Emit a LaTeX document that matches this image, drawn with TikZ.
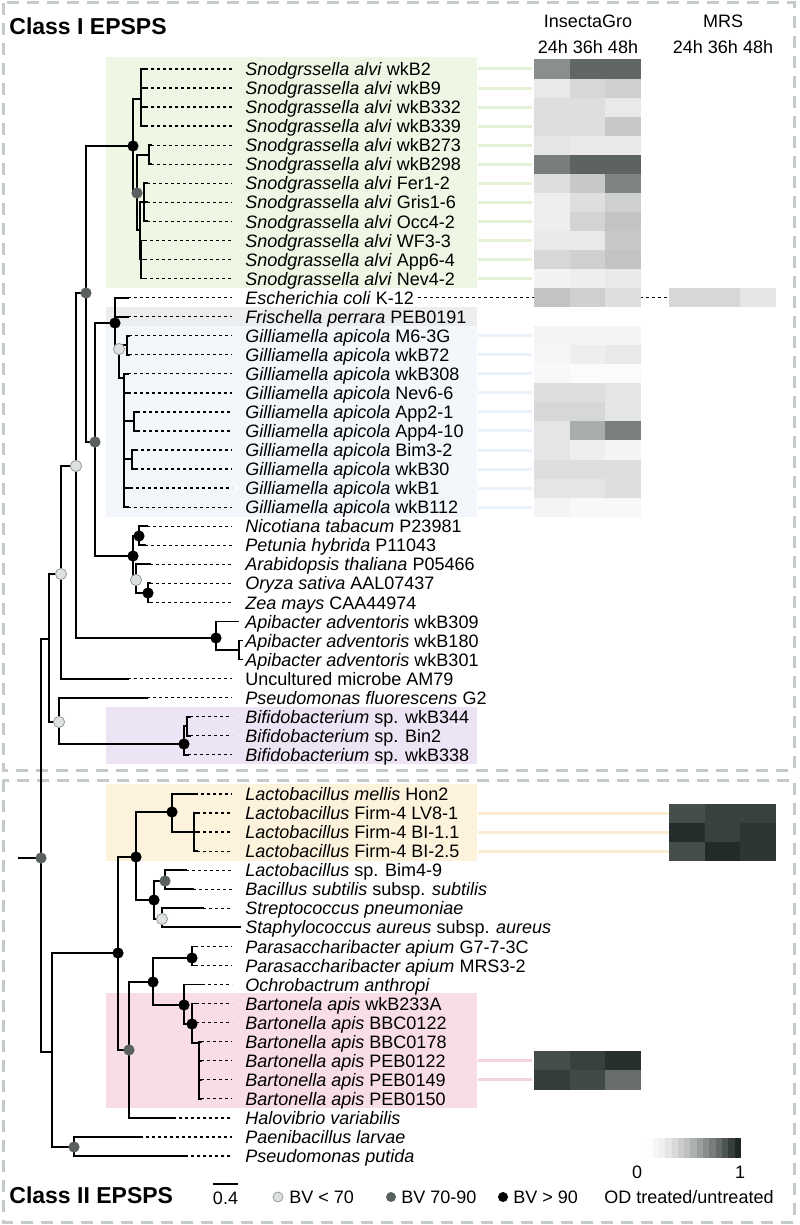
\documentclass[tikz,border=0pt]{standalone}
\usepackage{fontspec}
\setmainfont{Liberation Sans}

\definecolor{hm}{RGB}{30,38,38}
\definecolor{framegray}{RGB}{197,202,202}
\definecolor{snodbg}{RGB}{237,247,227}
\definecolor{frisbg}{RGB}{236,237,238}
\definecolor{gillbg}{RGB}{243,247,252}
\definecolor{bifbg}{RGB}{236,228,244}
\definecolor{lactbg}{RGB}{253,243,220}
\definecolor{bartbg}{RGB}{248,220,230}
\definecolor{snodln}{RGB}{228,241,214}
\definecolor{gillln}{RGB}{234,241,250}
\definecolor{lactln}{RGB}{252,236,208}
\definecolor{bartln}{RGB}{245,210,223}
\definecolor{bvmidc}{RGB}{90,96,96}
\definecolor{bvlowc}{RGB}{222,225,226}

\tikzset{
  branch/.style={line width=0.9pt, line cap=rect},
  dotline/.style={line width=0.65pt, dash pattern=on 1.4pt off 1.6pt},
  leaf/.style={anchor=west, inner sep=0pt, text height=1.5ex, text depth=.25ex, font=\fontsize{9}{10}\selectfont},
  plain/.style={inner sep=0pt, font=\fontsize{9}{10}\selectfont},
  title/.style={anchor=west, inner sep=0pt, font=\fontsize{11.5}{13}\selectfont\bfseries},
  frame/.style={draw=framegray, line width=1.5pt, dash pattern=on 6pt off 4pt},
  bvhi/.style={fill=black},
  bvmid/.style={fill=bvmidc},
  bvlow/.style={fill=bvlowc, draw=gray!80, line width=0.4pt},
  link/.style={line width=1.5pt}
}

\begin{document}
\begin{tikzpicture}[x=0.5pt, y=-0.5pt]
\useasboundingbox (0,0) rectangle (799,1225);
\fill[white] (0,0) rectangle (799,1225);

% clade backgrounds
\fill[snodbg] (106,57) rectangle (477,288);
\fill[frisbg] (106,307) rectangle (477,326);
\fill[gillbg] (106,326) rectangle (477,517);
\fill[bifbg] (106,707) rectangle (477,764);
\fill[lactbg] (106,784) rectangle (477,861);
\fill[bartbg] (106,993) rectangle (477,1108);

% frames
\draw[frame] (3,3) rectangle (794,770);
\draw[frame] (3,780) rectangle (794,1222);

\node[title] (cls1) at (9,26) {Class I EPSPS};
\node[title] (cls2) at (9,1195) {Class II EPSPS};

% leaves
\node[leaf] (l1) at (245,69) {\emph{Snodgrssella alvi} wkB2};
\node[leaf] (l2) at (245,88.05) {\emph{Snodgrassella alvi} wkB9};
\node[leaf] (l3) at (245,107.1) {\emph{Snodgrassella alvi} wkB332};
\node[leaf] (l4) at (245,126.15) {\emph{Snodgrassella alvi} wkB339};
\node[leaf] (l5) at (245,145.2) {\emph{Snodgrassella alvi} wkB273};
\node[leaf] (l6) at (245,164.25) {\emph{Snodgrassella alvi} wkB298};
\node[leaf] (l7) at (245,183.3) {\emph{Snodgrassella alvi} Fer1-2};
\node[leaf] (l8) at (245,202.35) {\emph{Snodgrassella alvi} Gris1-6};
\node[leaf] (l9) at (245,221.4) {\emph{Snodgrassella alvi} Occ4-2};
\node[leaf] (l10) at (245,240.45) {\emph{Snodgrassella alvi} WF3-3};
\node[leaf] (l11) at (245,259.5) {\emph{Snodgrassella alvi} App6-4};
\node[leaf] (l12) at (245,278.55) {\emph{Snodgrassella alvi} Nev4-2};
\node[leaf] (l13) at (245,297.6) {\emph{Escherichia coli} K-12};
\node[leaf] (l14) at (245,316.65) {\emph{Frischella perrara} PEB0191};
\node[leaf] (l15) at (245,335.7) {\emph{Gilliamella apicola} M6-3G};
\node[leaf] (l16) at (245,354.75) {\emph{Gilliamella apicola} wkB72};
\node[leaf] (l17) at (245,373.8) {\emph{Gilliamella apicola} wkB308};
\node[leaf] (l18) at (245,392.85) {\emph{Gilliamella apicola} Nev6-6};
\node[leaf] (l19) at (245,411.9) {\emph{Gilliamella apicola} App2-1};
\node[leaf] (l20) at (245,430.95) {\emph{Gilliamella apicola} App4-10};
\node[leaf] (l21) at (245,450) {\emph{Gilliamella apicola} Bim3-2};
\node[leaf] (l22) at (245,469.05) {\emph{Gilliamella apicola} wkB30};
\node[leaf] (l23) at (245,488.1) {\emph{Gilliamella apicola} wkB1};
\node[leaf] (l24) at (245,507.15) {\emph{Gilliamella apicola} wkB112};
\node[leaf] (l25) at (245,526.2) {\emph{Nicotiana tabacum} P23981};
\node[leaf] (l26) at (245,545.25) {\emph{Petunia hybrida} P11043};
\node[leaf] (l27) at (245,564.3) {\emph{Arabidopsis thaliana} P05466};
\node[leaf] (l28) at (245,583.35) {\emph{Oryza sativa} AAL07437};
\node[leaf] (l29) at (245,602.4) {\emph{Zea mays} CAA44974};
\node[leaf] (l30) at (245,621.45) {\emph{Apibacter adventoris} wkB309};
\node[leaf] (l31) at (245,640.5) {\emph{Apibacter adventoris} wkB180};
\node[leaf] (l32) at (245,659.55) {\emph{Apibacter adventoris} wkB301};
\node[leaf] (l33) at (245,678.6) {Uncultured microbe AM79};
\node[leaf] (l34) at (245,697.65) {\emph{Pseudomonas fluorescens} G2};
\node[leaf] (l35) at (245,716.7) {\emph{Bifidobacterium} sp. wkB344};
\node[leaf] (l36) at (245,735.75) {\emph{Bifidobacterium} sp. Bin2};
\node[leaf] (l37) at (245,754.8) {\emph{Bifidobacterium} sp. wkB338};
\node[leaf] (l38) at (245,794) {\emph{Lactobacillus mellis} Hon2};
\node[leaf] (l39) at (245,813.05) {\emph{Lactobacillus} Firm-4 LV8-1};
\node[leaf] (l40) at (245,832.1) {\emph{Lactobacillus} Firm-4 BI-1.1};
\node[leaf] (l41) at (245,851.15) {\emph{Lactobacillus} Firm-4 BI-2.5};
\node[leaf] (l42) at (245,870.2) {\emph{Lactobacillus} sp. Bim4-9};
\node[leaf] (l43) at (245,889.25) {\emph{Bacillus subtilis} subsp. \emph{subtilis}};
\node[leaf] (l44) at (245,908.3) {\emph{Streptococcus pneumoniae}};
\node[leaf] (l45) at (245,927.35) {\emph{Staphylococcus aureus} subsp. \emph{aureus}};
\node[leaf] (l46) at (245,946.4) {\emph{Parasaccharibacter apium} G7-7-3C};
\node[leaf] (l47) at (245,965.45) {\emph{Parasaccharibacter apium} MRS3-2};
\node[leaf] (l48) at (245,984.5) {\emph{Ochrobactrum anthropi}};
\node[leaf] (l49) at (245,1003.55) {\emph{Bartonela apis} wkB233A};
\node[leaf] (l50) at (245,1022.6) {\emph{Bartonella apis} BBC0122};
\node[leaf] (l51) at (245,1041.65) {\emph{Bartonella apis} BBC0178};
\node[leaf] (l52) at (245,1060.7) {\emph{Bartonella apis} PEB0122};
\node[leaf] (l53) at (245,1079.75) {\emph{Bartonella apis} PEB0149};
\node[leaf] (l54) at (245,1098.8) {\emph{Bartonella apis} PEB0150};
\node[leaf] (l55) at (245,1117.85) {\emph{Halovibrio variabilis}};
\node[leaf] (l56) at (245,1136.9) {\emph{Paenibacillus larvae}};
\node[leaf] (l57) at (245,1155.95) {\emph{Pseudomonas putida}};

% branch tips
\coordinate (t1) at (145,69);
\coordinate (t2) at (145,88.05);
\coordinate (t3) at (145,107.1);
\coordinate (t4) at (145,126.15);
\coordinate (t5) at (151,145.2);
\coordinate (t6) at (151,164.25);
\coordinate (t7) at (147,183.3);
\coordinate (t8) at (147,202.35);
\coordinate (t9) at (147,221.4);
\coordinate (t10) at (144,240.45);
\coordinate (t11) at (144,259.5);
\coordinate (t12) at (144,278.55);
\coordinate (t13) at (128,297.6);
\coordinate (t14) at (128,316.65);
\coordinate (t15) at (129,335.7);
\coordinate (t16) at (129,354.75);
\coordinate (t17) at (128,373.8);
\coordinate (t18) at (128,392.85);
\coordinate (t19) at (137,411.9);
\coordinate (t20) at (137,430.95);
\coordinate (t21) at (135,450);
\coordinate (t22) at (135,469.05);
\coordinate (t23) at (130,488.1);
\coordinate (t24) at (128,507.15);
\coordinate (t25) at (147,526.2);
\coordinate (t26) at (145,545.25);
\coordinate (t27) at (150,564.3);
\coordinate (t28) at (150,583.35);
\coordinate (t29) at (150,602.4);
\coordinate (t30) at (238,621.45);
\coordinate (t31) at (242,640.5);
\coordinate (t32) at (242,659.55);
\coordinate (t33) at (128,678.6);
\coordinate (t34) at (147,697.65);
\coordinate (t35) at (190,716.7);
\coordinate (t36) at (190,735.75);
\coordinate (t37) at (188,754.8);
\coordinate (t38) at (195,794);
\coordinate (t39) at (197,813.05);
\coordinate (t40) at (197,832.1);
\coordinate (t41) at (197,851.15);
\coordinate (t42) at (186,870.2);
\coordinate (t43) at (193,889.25);
\coordinate (t44) at (203,908.3);
\coordinate (t45) at (240,927.35);
\coordinate (t46) at (195,946.4);
\coordinate (t47) at (195,965.45);
\coordinate (t48) at (202,984.5);
\coordinate (t49) at (196,1003.55);
\coordinate (t50) at (196,1022.6);
\coordinate (t51) at (201,1041.65);
\coordinate (t52) at (201,1060.7);
\coordinate (t53) at (201,1079.75);
\coordinate (t54) at (201,1098.8);
\coordinate (t55) at (173,1117.85);
\coordinate (t56) at (140,1136.9);
\coordinate (t57) at (185,1155.95);

% internal nodes
\coordinate (stub) at (19,858);
\coordinate (R) at (41,858);
\coordinate (C1) at (49,639);
\coordinate (N61) at (61,574);
\coordinate (N76) at (76,466);
\coordinate (N86) at (86,293);
\coordinate (SA) at (133,146);
\coordinate (S1) at (141,99);
\coordinate (S2) at (137,193);
\coordinate (S3) at (149,155);
\coordinate (S4) at (140,230);
\coordinate (S5) at (144,202);
\coordinate (S6) at (141,259);
\coordinate (N95) at (95,442);
\coordinate (FE) at (115,323);
\coordinate (FG) at (119,349);
\coordinate (G1) at (127,345);
\coordinate (GR) at (124,378);
\coordinate (G19) at (134,421);
\coordinate (G21) at (132,459);
\coordinate (P) at (133,556);
\coordinate (NP) at (139,536);
\coordinate (OA) at (136,580);
\coordinate (OZ) at (148,593);
\coordinate (Api) at (216,638);
\coordinate (Api2) at (239,650);
\coordinate (N59) at (59,722);
\coordinate (Bif) at (184,744);
\coordinate (Bif2) at (187,726);
\coordinate (C2) at (52,1052);
\coordinate (L) at (118,953);
\coordinate (LB) at (136,857);
\coordinate (LC) at (172,812);
\coordinate (F4) at (194,832);
\coordinate (LD) at (154,900);
\coordinate (LE) at (165,881);
\coordinate (LF) at (162,919);
\coordinate (BA) at (129,1050);
\coordinate (PB) at (153,982);
\coordinate (Par) at (192,958);
\coordinate (Bt) at (184,1005);
\coordinate (Bt2) at (192,1024);
\coordinate (Bt3) at (199,1043);
\coordinate (PP) at (74,1147);

% links from labels to the heat map
\foreach \i in {1,...,12}
  \draw[link, snodln] ([xshift=116.5pt]l\i.west) -- ++(54,0);
\foreach \i in {15,...,24}
  \draw[link, gillln] ([xshift=116.5pt]l\i.west) -- ++(54,0);
\foreach \i in {39,40,41}
  \draw[link, lactln] ([xshift=116.5pt]l\i.west) -- ++(191,0);
\foreach \i in {52,53}
  \draw[link, bartln] ([xshift=116.5pt]l\i.west) -- ++(54,0);
\draw[dotline] ([xshift=2pt]l13.east) -- ([xshift=144.5pt]l13.west);
\draw[dotline] ([xshift=197.5pt]l13.west) -- ([xshift=212pt]l13.west);

% heat map, InsectaGro
\foreach \y/\a/\b/\c in {69/52/70/70, 88.05/10/18/22, 107.1/15/15/10, 126.15/15/15/25,
    145.2/12/10/10, 164.25/60/72/72, 183.3/15/25/57, 202.35/8/15/22, 221.4/8/20/27,
    240.45/10/10/25, 259.5/18/22/27, 278.55/6/8/10, 297.6/27/22/15,
    335.7/5/5/5, 354.75/4/8/10, 373.8/3/2/2, 392.85/15/15/12, 411.9/18/18/12,
    430.95/12/38/59, 450/12/8/5, 469.05/15/15/15, 488.1/12/12/15, 507.15/5/3/3,
    1060.7/82/88/96, 1079.75/90/84/67} {
  \fill[hm!\a!white] (534,{\y-9.53}) rectangle ++(35.8,19.3);
  \fill[hm!\b!white] (569.5,{\y-9.53}) rectangle ++(35.8,19.3);
  \fill[hm!\c!white] (605,{\y-9.53}) rectangle ++(35.5,19.3);
}
% heat map, MRS
\foreach \y/\a/\b/\c in {297.6/18/18/12, 813.05/82/88/88, 832.1/97/88/93, 851.15/82/98/93} {
  \fill[hm!\a!white] (669,{\y-9.53}) rectangle ++(36,19.3);
  \fill[hm!\b!white] (704.7,{\y-9.53}) rectangle ++(36,19.3);
  \fill[hm!\c!white] (740.4,{\y-9.53}) rectangle ++(35.6,19.3);
}

\node[plain] (hdIG) at (588,21) {InsectaGro};
\node[plain] (hdMRS) at (723,21) {MRS};
\node[plain] (tmIG) at (588,47) {24h 36h 48h};
\node[plain] (tmMRS) at (723,47) {24h 36h 48h};

% tree
\draw[branch] (stub) -- (R);
\draw[branch] (R) |- (C1);
\draw[branch] (R) |- (C2);
\draw[branch] (C1) |- (N61);
\draw[branch] (C1) |- (N59);
\draw[branch] (N61) |- (N76);
\draw[branch] (N61) |- (t33);
\draw[branch] (N76) |- (N86);
\draw[branch] (N76) |- (Api);
\draw[branch] (N86) |- (SA);
\draw[branch] (N86) |- (N95);
\draw[branch] (SA) |- (S1);
\draw[branch] (SA) |- (S2);
\foreach \i in {1,...,4} \draw[branch] (S1) |- (t\i);
\draw[branch] (S2) |- (S3);
\draw[branch] (S2) |- (S4);
\foreach \i in {5,6} \draw[branch] (S3) |- (t\i);
\draw[branch] (S4) |- (S5);
\draw[branch] (S4) |- (S6);
\foreach \i in {7,8,9} \draw[branch] (S5) |- (t\i);
\foreach \i in {10,11,12} \draw[branch] (S6) |- (t\i);
\draw[branch] (N95) |- (FE);
\draw[branch] (N95) |- (P);
\draw[branch] (FE) |- (t13);
\draw[branch] (FE) |- (t14);
\draw[branch] (FE) |- (FG);
\draw[branch] (FG) |- (G1);
\draw[branch] (FG) |- (GR);
\foreach \i in {15,16} \draw[branch] (G1) |- (t\i);
\foreach \i in {17,18,23,24} \draw[branch] (GR) |- (t\i);
\draw[branch] (GR) |- (G19);
\draw[branch] (GR) |- (G21);
\foreach \i in {19,20} \draw[branch] (G19) |- (t\i);
\foreach \i in {21,22} \draw[branch] (G21) |- (t\i);
\draw[branch] (P) |- (NP);
\draw[branch] (P) |- (OA);
\foreach \i in {25,26} \draw[branch] (NP) |- (t\i);
\draw[branch] (OA) |- (t27);
\draw[branch] (OA) |- (OZ);
\foreach \i in {28,29} \draw[branch] (OZ) |- (t\i);
\draw[branch] (Api) |- (t30);
\draw[branch] (Api) |- (Api2);
\foreach \i in {31,32} \draw[branch] (Api2) |- (t\i);
\draw[branch] (N59) |- (t34);
\draw[branch] (N59) |- (Bif);
\draw[branch] (Bif) |- (Bif2);
\draw[branch] (Bif) |- (t37);
\foreach \i in {35,36} \draw[branch] (Bif2) |- (t\i);
\draw[branch] (C2) |- (L);
\draw[branch] (C2) |- (PP);
\draw[branch] (L) |- (LB);
\draw[branch] (L) |- (BA);
\draw[branch] (LB) |- (LC);
\draw[branch] (LB) |- (LD);
\draw[branch] (LC) |- (t38);
\draw[branch] (LC) |- (F4);
\foreach \i in {39,40,41} \draw[branch] (F4) |- (t\i);
\draw[branch] (LD) |- (LE);
\draw[branch] (LD) |- (LF);
\foreach \i in {42,43} \draw[branch] (LE) |- (t\i);
\foreach \i in {44,45} \draw[branch] (LF) |- (t\i);
\draw[branch] (BA) |- (PB);
\draw[branch] (BA) |- (t55);
\draw[branch] (PB) |- (Par);
\draw[branch] (PB) |- (Bt);
\foreach \i in {46,47} \draw[branch] (Par) |- (t\i);
\draw[branch] (Bt) |- (t48);
\draw[branch] (Bt) |- (Bt2);
\foreach \i in {49,50} \draw[branch] (Bt2) |- (t\i);
\draw[branch] (Bt2) |- (Bt3);
\foreach \i in {51,...,54} \draw[branch] (Bt3) |- (t\i);
\foreach \i in {56,57} \draw[branch] (PP) |- (t\i);

% dotted extensions
\foreach \i in {1,...,29,33,34,...,44,46,47,...,57}
  \draw[dotline] (t\i) -- ([xshift=-6.5pt]l\i.west);

% bootstrap support
\foreach \n in {SA,FE,P,NP,OZ,Api,Bif,L,LB,LC,LD,PB,Par,Bt,Bt2}
  \fill[bvhi] (\n) circle[radius=2.8pt];
\foreach \n in {R,N86,S2,N95,LE,BA,PP}
  \fill[bvmid] (\n) circle[radius=2.8pt];
\foreach \n in {N61,N76,FG,OA,N59,LF}
  \filldraw[bvlow] (\n) circle[radius=2.8pt];

% colour bar
\foreach \k in {0,...,15} {
  \pgfmathtruncatemacro\v{100*(\k/15)^1.6}
  \fill[hm!\v!white] ({640+6.3*\k},1138) rectangle ++(6.6,20);
}
\node[plain] (cb0) at (637,1172) {0};
\node[plain] (cb1) at (740,1172) {1};
\node[plain] (cbt) at (689,1197) {OD treated/untreated};

% legend
\coordinate (sb1) at (213,1184);
\coordinate (sb2) at (238,1184);
\draw[line width=0.7pt] (sb1) -- (sb2);
\node[plain] (sbt) at (225.5,1198) {0.4};
\filldraw[bvlow] (278,1197) circle[radius=2.5pt];
\node[plain, anchor=west] (lg1) at (289,1197) {BV < 70};
\fill[bvmid] (391,1197) circle[radius=2.5pt];
\node[plain, anchor=west] (lg2) at (401,1197) {BV 70-90};
\fill[bvhi] (503,1197) circle[radius=2.5pt];
\node[plain, anchor=west] (lg3) at (513,1197) {BV > 90};
\end{tikzpicture}
\end{document}
